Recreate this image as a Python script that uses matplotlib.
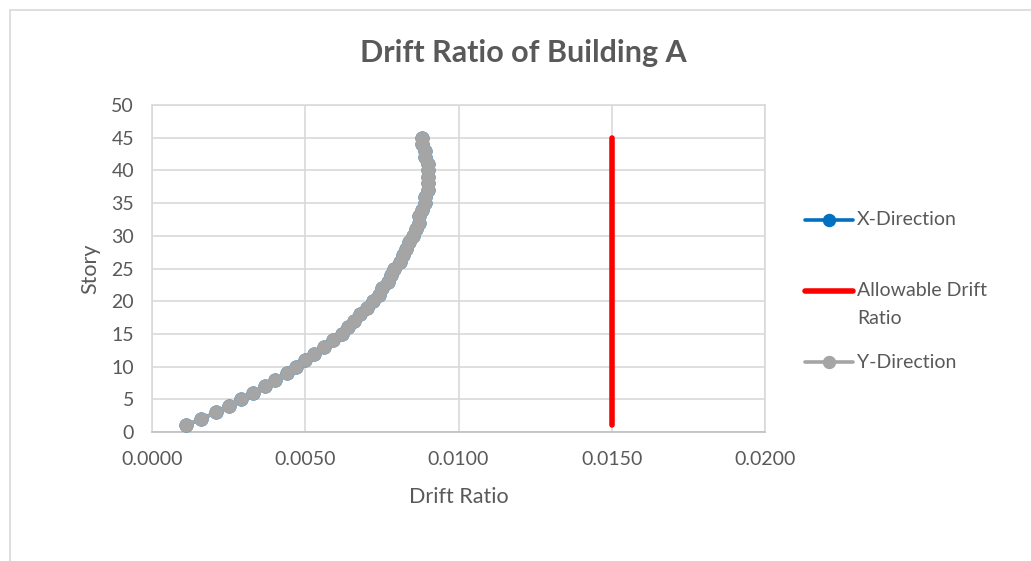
import numpy as np
import matplotlib
matplotlib.use('Agg')
import matplotlib.pyplot as plt
from matplotlib.lines import Line2D
from matplotlib.patches import Rectangle

plt.rcParams['font.family'] = ['Lato', 'DejaVu Sans']

stories = list(range(1, 46))
y_dir = [0.0011, 0.0016, 0.0021, 0.0025, 0.0029, 0.0033, 0.0037, 0.0040, 0.0044, 0.0047,
         0.0050, 0.0053, 0.0056, 0.0059, 0.0062, 0.0064, 0.0066, 0.0068, 0.0070, 0.0072,
         0.0074, 0.0075, 0.0077, 0.0078, 0.0079, 0.0081, 0.0082, 0.0083, 0.0084, 0.0085,
         0.0086, 0.0087, 0.0087, 0.0088, 0.0089, 0.0089, 0.0090, 0.0090, 0.0090, 0.0090,
         0.0090, 0.0089, 0.0089, 0.0088, 0.0088]
x_dir = [0.0011, 0.0016, 0.0021, 0.0025, 0.0029, 0.0033, 0.0037, 0.0040, 0.0044, 0.0047,
         0.0050, 0.0053, 0.0056, 0.0059, 0.0062, 0.0064, 0.0066, 0.0068, 0.0070, 0.0072,
         0.0074, 0.0075, 0.0077, 0.0078, 0.0079, 0.0081, 0.0082, 0.0083, 0.0084, 0.0085,
         0.0086, 0.0087, 0.0087, 0.0088, 0.0089, 0.0089, 0.0090, 0.0090, 0.0090, 0.0090,
         0.0090, 0.0089, 0.0089, 0.0088, 0.0088]
allow_ratio = [0.015, 0.015]
allow_story = [1, 45]

txt = '#595959'
grid = '#d9d9d9'
blue = '#0070c0'
gray = '#a5a5a5'
red = '#ff0000'

fig = plt.figure(figsize=(10.31, 5.61), dpi=100)
# chart area border
fig.add_artist(Rectangle((10 / 1031, -0.1), 1.1, 1 - 10 / 561 + 0.1, transform=fig.transFigure,
                         fill=False, edgecolor='#d9d9d9', linewidth=1.2))

ax = fig.add_axes([152 / 1031, 1 - 432 / 561, (765 - 152) / 1031, (432 - 105) / 561])
ax.plot(x_dir, stories, color=blue, linewidth=2.6, marker='o', markersize=9.2, zorder=3)
ax.plot(allow_ratio, allow_story, color=red, linewidth=4, solid_capstyle='round', zorder=3)
ax.plot(y_dir, stories, color=gray, linewidth=2.6, marker='o', markersize=9.2, zorder=4)

ax.set_xlim(0, 0.02)
ax.set_ylim(0, 50)
ax.set_xticks(np.arange(0, 0.0201, 0.005))
ax.set_yticks(np.arange(0, 51, 5))
ax.set_xticklabels([f'{v:.4f}' for v in np.arange(0, 0.0201, 0.005)])
ax.grid(True, color=grid, linewidth=1.2, zorder=0)
ax.set_axisbelow(True)
for s in ax.spines.values():
    s.set_color(grid)
    s.set_linewidth(1.2)
ax.spines['bottom'].set_color('#bfbfbf')
ax.tick_params(length=0, labelsize=14, labelcolor=txt)
ax.tick_params(axis='x', pad=14)
ax.tick_params(axis='y', pad=13)
ax.set_xlabel('Drift Ratio', fontsize=15.5, color=txt)
ax.set_ylabel('Story', fontsize=15.5, color=txt)
ax.xaxis.set_label_coords(0.5, -(497 - 432) / 327)
ax.yaxis.set_label_coords(-(152 - 90) / 613, 0.5)
ax.xaxis.label.set_va('center')
ax.yaxis.label.set_va('center')

fig.text(523 / 1031, 1 - 53 / 561, 'Drift Ratio of Building A', ha='center', va='center',
         fontsize=22, fontweight='bold', color=txt)

# legend
def leg_entry(y, color, marker, lw):
    yy = 1 - y / 561
    fig.add_artist(Line2D([805 / 1031, 853 / 1031], [yy, yy], transform=fig.transFigure,
                          color=color, linewidth=lw, solid_capstyle='round'))
    if marker:
        fig.add_artist(Line2D([829 / 1031], [yy], transform=fig.transFigure, color=color,
                              marker='o', markersize=8.6, linestyle='none'))

leg_entry(220, blue, True, 2.6)
leg_entry(291, red, False, 4)
leg_entry(362, gray, True, 2.6)
fs_leg = 14
fig.text(857 / 1031, 1 - 220 / 561, 'X-Direction', va='center', fontsize=fs_leg, color=txt)
fig.text(857 / 1031, 1 - 291 / 561, 'Allowable Drift', va='center', fontsize=fs_leg, color=txt)
fig.text(857 / 1031, 1 - 319 / 561, 'Ratio', va='center', fontsize=fs_leg, color=txt)
fig.text(857 / 1031, 1 - 362 / 561, 'Y-Direction', va='center', fontsize=fs_leg, color=txt)

fig.savefig('out.png', dpi=100)
